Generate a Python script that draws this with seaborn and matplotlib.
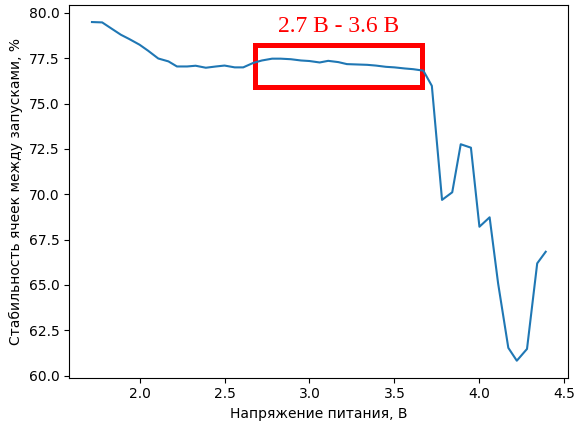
import matplotlib
matplotlib.use("Agg")
import matplotlib.pyplot as plt
from matplotlib.patches import Rectangle
import pandas as pd
import seaborn as sns

# supply voltage, V
voltage = [1.72, 1.78, 1.83, 1.89, 1.94, 2.00, 2.05, 2.11, 2.17, 2.22,
           2.28, 2.33, 2.39, 2.45, 2.50, 2.56, 2.61, 2.67, 2.72, 2.78,
           2.83, 2.89, 2.95, 3.00, 3.06, 3.11, 3.17, 3.22, 3.28, 3.34,
           3.39, 3.45, 3.50, 3.56, 3.61, 3.67, 3.72, 3.78, 3.84, 3.89,
           3.95, 4.00, 4.06, 4.11, 4.17, 4.22, 4.28, 4.34, 4.39]
# cell stability between runs, %
stability = [79.50, 79.48, 79.17, 78.80, 78.56, 78.25, 77.92, 77.49, 77.33, 77.05,
             77.05, 77.09, 76.98, 77.05, 77.10, 77.00, 77.00, 77.25, 77.38, 77.48,
             77.48, 77.45, 77.38, 77.35, 77.27, 77.36, 77.29, 77.18, 77.16, 77.14,
             77.10, 77.03, 77.00, 76.94, 76.90, 76.82, 75.98, 69.69, 70.11, 72.76,
             72.57, 68.21, 68.73, 65.08, 61.53, 60.82, 61.47, 66.19, 66.83]

# highlighted range
box_x = [2.68, 3.66]
box_y = [75.93, 78.23]
box_label = "2.7 В - 3.6 В"

df = pd.DataFrame({"v": voltage, "s": stability})

fig, ax = plt.subplots(figsize=(5.75, 4.26), dpi=100)
fig.subplots_adjust(left=0.1205, right=0.9885, top=0.988, bottom=0.1135)

sns.lineplot(data=df, x="v", y="s", ax=ax, color="#1f77b4", linewidth=1.5)

ax.add_patch(Rectangle((box_x[0], box_y[0]), box_x[1] - box_x[0], box_y[1] - box_y[0],
                       fill=False, edgecolor="red", linewidth=3.6))
ax.text(3.17, 78.95, box_label, color="red", fontsize=17, ha="center", va="baseline",
        family="Liberation Serif")

ax.set_xlabel("Напряжение питания, В")
ax.set_ylabel("Стабильность ячеек между запусками, %")

fig.savefig("out.png", dpi=100)
